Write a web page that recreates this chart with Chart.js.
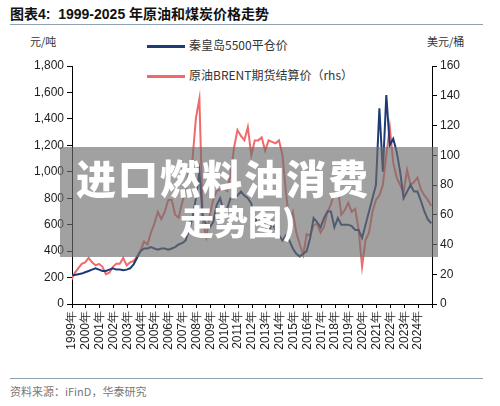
<!DOCTYPE html>
<html><head><meta charset="utf-8">
<script src="https://cdn.jsdelivr.net/npm/chart.js@4"></script>
<style>
body{margin:0;width:500px;height:406px;background:#fff;font-family:"Liberation Sans","Noto Sans CJK SC",sans-serif;position:relative;overflow:hidden}
.t{position:absolute;left:10px;top:3px;font-size:14px;font-weight:bold;color:#111}
.rule{position:absolute;left:10px;width:473px;height:1px;background:#8ea0b4}
.u{position:absolute;font-size:11px;color:#333;font-family:"Noto Sans CJK SC"}
.lg{position:absolute;left:147px;font-size:12px;color:#333;font-family:"Noto Sans CJK SC"}
.lg i{display:inline-block;width:38px;height:3px;vertical-align:middle;margin-right:4px}
#band{position:absolute;left:60px;top:147px;width:378px;height:110px;background:rgba(110,110,110,0.65);z-index:5}
.bt{position:absolute;color:#fff;font-weight:900;font-family:"Noto Sans CJK SC";z-index:6;white-space:nowrap}
.src{position:absolute;left:10px;top:383px;font-size:11px;color:#777;font-family:"Noto Sans CJK SC"}
</style></head><body>
<div class="t">图表4:&nbsp; 1999-2025 年原油和煤炭价格走势</div>
<div class="rule" style="top:24px"></div>
<div class="u" style="left:30px;top:33px">元/吨</div>
<div class="u" style="left:427px;top:33px">美元/桶</div>
<div class="lg" style="top:36px"><i style="background:#1f3b73"></i>秦皇岛5500平仓价</div>
<div class="lg" style="top:66px"><i style="background:#f06a6a"></i>原油BRENT期货结算价（rhs）</div>
<div style="position:absolute;left:0;top:28px;width:500px;height:350px"><canvas id="c"></canvas></div>
<div id="band"></div>
<div class="bt" style="left:76px;top:148px;font-size:40px;letter-spacing:2px">进口燃料油消费</div>
<div class="bt" style="left:180px;top:196px;font-size:34px">走势图)</div>
<div class="rule" style="top:378px"></div>
<div class="src">资料来源：iFinD，华泰研究</div>
<script>
var years = [1999,2000,2001,2002,2003,2004,2005,2006,2007,2008,2009,2010,2011,2012,2013,2014,2015,2016,2017,2018,2019,2020,2021,2022,2023,2024,2025];
// quarterly values, 4 per year (last two are early 2025)
var coal = [230,220,220,225, 230,240,250,260, 270,260,250,250, 260,270,260,260, 255,260,270,300,
  350,400,420,420, 430,420,410,420, 420,410,420,430, 450,460,480,560, 650,800,1000,650,
  600,580,620,750, 800,700,720,800, 800,820,850,820, 800,760,620,650, 620,600,530,620,
  560,520,480,520, 480,420,380,360, 380,400,500,650, 620,580,650,700, 700,580,650,600,
  600,600,590,560, 560,500,600,700, 800,900,1480,1000, 1580,1200,1250,1150, 1000,800,850,900,
  850,850,780,700, 640,610];
var brent = [12,16,21,24, 27,28,31,28, 26,27,25,20, 21,25,27,27, 31,26,28,29,
  32,36,42,40, 48,54,62,57, 62,70,70,60, 58,68,76,90, 97,125,138,55,
  45,60,70,76, 77,78,76,87, 105,117,113,110, 119,100,110,110, 112,103,110,109,
  108,110,100,75, 55,62,48,40, 33,47,46,53, 54,48,52,62, 67,75,78,60,
  63,68,62,64, 50,25,43,48, 62,70,73,80, 100,119,95,85, 80,75,90,80,
  82,85,77,73, 70,66];

var coalPts = coal.map(function(v,i){return {x: years[0] + i/4 - 0.3, y: v};});
var brentPts = brent.map(function(v,i){return {x: years[0] + i/4 - 0.3, y: v};});

var axisFont = {family:"Liberation Sans", size:12};
new Chart(document.getElementById("c"), {
  type: "line",
  data: {datasets: [
    {data: coalPts, borderColor: "#1f3b73", borderWidth: 2, pointRadius: 0, yAxisID: "y", tension: 0},
    {data: brentPts, borderColor: "#f06a6a", borderWidth: 2, pointRadius: 0, yAxisID: "y1", tension: 0}
  ]},
  options: {
    responsive: true, maintainAspectRatio: false, animation: false,
    layout: {padding: {top: 38}},
    plugins: {legend: {display: false}, tooltip: {enabled: false}},
    scales: {
      x: {type: "linear", min: 1999, max: 2025,
        afterFit: function(s){ s.height = 74; },
        border: {color: "#000"},
        grid: {drawOnChartArea: false, tickLength: 4, color: "#000"},
        ticks: {stepSize: 1, autoSkip: false, maxRotation: 90, minRotation: 90, color: "#222", font: axisFont,
          callback: function(v){ return v < 2025 ? v + "年" : ""; }}},
      y: {position: "left", min: 0, max: 1800,
        afterFit: function(s){ s.width = 72; },
        border: {color: "#000"},
        grid: {drawOnChartArea: false, tickLength: 5, color: "#000"},
        ticks: {stepSize: 200, color: "#222", font: axisFont,
          callback: function(v){ return v.toLocaleString("en-US"); }}},
      y1: {position: "right", min: 0, max: 160,
        afterFit: function(s){ s.width = 68; },
        border: {color: "#000"},
        grid: {drawOnChartArea: false, tickLength: 5, color: "#000"},
        ticks: {stepSize: 20, color: "#222", font: axisFont}}
    }
  }
});
</script>
</body></html>
